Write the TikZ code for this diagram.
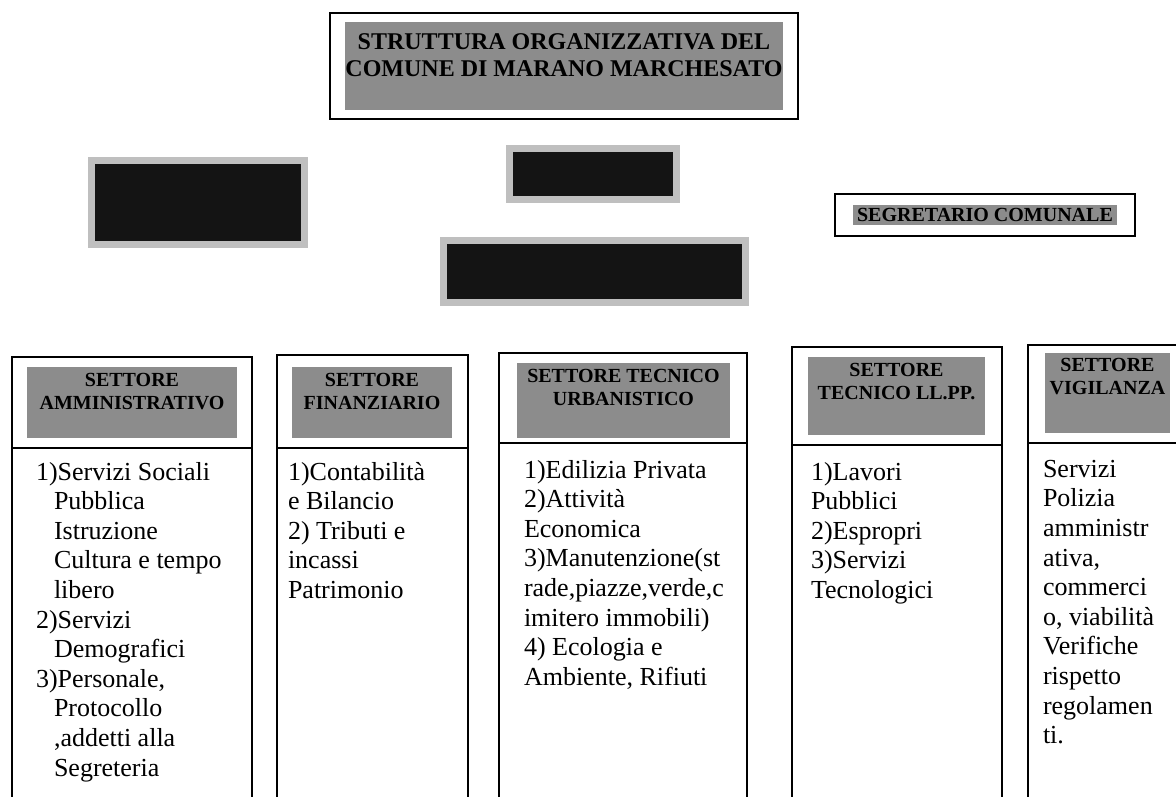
\documentclass[tikz,border=0pt]{standalone}
\usepackage{fontspec}
\setmainfont{Liberation Serif}
\usetikzlibrary{positioning, fit}

\begin{document}
\begin{tikzpicture}[x=1pt, y=-1pt, line width=2pt,
  hdr/.style={fill=black!45, inner sep=0pt},
  hdrtext/.style={font=\bfseries\fontsize{20}{23}\selectfont, align=center, inner sep=0pt},
  darkbox/.style={fill=black!92, draw=black!25, line width=7pt, inner sep=0pt},
  frame/.style={draw, line width=2pt, inner sep=0pt},
  body/.style={font=\fontsize{26}{29.6}\selectfont, align=left, inner sep=0pt, anchor=north west}]

  \useasboundingbox (0,0) rectangle (1176,797);

  % titolo
  \node[hdr, minimum width=438, minimum height=88] (titlebg) at (564,66) {};
  \node[hdrtext, font=\bfseries\fontsize{24}{27}\selectfont, below=12pt of titlebg.north] (title)
    {STRUTTURA ORGANIZZATIVA DEL\\COMUNE DI MARANO MARCHESATO};
  \node[frame, fit=(titlebg), inner xsep=14pt, inner ysep=8pt] (titlefr) {};

  % organi
  \node[darkbox, minimum width=213, minimum height=83] (boxleft) at (197.5,202.5) {};
  \node[darkbox, minimum width=167, minimum height=51] (boxmid) at (592.5,174) {};
  \node[darkbox, minimum width=302, minimum height=62] (boxlow) at (594.5,271) {};

  \node[hdr, hdrtext, minimum width=264, minimum height=20] (segr) at (985,215) {SEGRETARIO COMUNALE};
  \node[frame, fit=(segr), inner xsep=17pt, inner ysep=10pt] (segrfr) {};

  % settori
  \draw (12,797) |- (252,357) -- (252,797);
  \draw (12,448) -- (252,448);
  \draw (277,797) |- (468,355) -- (468,797);
  \draw (277,448) -- (468,448);
  \draw (499,797) |- (747,353) -- (747,797);
  \draw (499,443) -- (747,443);
  \draw (792,797) |- (1002,347) -- (1002,797);
  \draw (792,445) -- (1002,445);
  \draw (1028,797) |- (1180,345);
  \draw (1028,443) -- (1180,443);

  \node[hdr, minimum width=210, minimum height=71] (hammin) at (132,402.5) {};
  \node[hdrtext, below=6pt of hammin.north] (tammin) {SETTORE\\AMMINISTRATIVO};
  \node[hdr, minimum width=160, minimum height=71] (hfin) at (372,402.5) {};
  \node[hdrtext, below=6pt of hfin.north] (tfin) {SETTORE\\FINANZIARIO};
  \node[hdr, minimum width=213, minimum height=75] (hurb) at (623.5,400.5) {};
  \node[hdrtext, below=6pt of hurb.north] (turb) {SETTORE TECNICO\\URBANISTICO};
  \node[hdr, minimum width=177, minimum height=78] (hllpp) at (896.5,396) {};
  \node[hdrtext, below=6pt of hllpp.north] (tllpp) {SETTORE\\TECNICO LL.PP.};
  \node[hdr, minimum width=125, minimum height=80] (hvig) at (1107.5,393) {};
  \node[hdrtext, below=5pt of hvig.north] (tvig) {SETTORE\\VIGILANZA};

  \node[body] (lammin) at (35,461) {1)Servizi Sociali\\
    \hspace*{18pt}Pubblica\\ \hspace*{18pt}Istruzione\\
    \hspace*{18pt}Cultura e tempo\\ \hspace*{18pt}libero\\
    2)Servizi\\ \hspace*{18pt}Demografici\\
    3)Personale,\\ \hspace*{18pt}Protocollo\\
    \hspace*{18pt},addetti alla\\ \hspace*{18pt}Segreteria};
  \node[body] (lfin) at (287,461) {1)Contabilità\\e Bilancio\\2) Tributi e\\incassi\\Patrimonio};
  \node[body] (lurb) at (523,459) {1)Edilizia Privata\\2)Attività\\Economica\\
    3)Manutenzione(st\\rade,piazze,verde,c\\imitero immobili)\\
    4) Ecologia e\\Ambiente, Rifiuti};
  \node[body] (lllpp) at (810,461) {1)Lavori\\Pubblici\\2)Espropri\\3)Servizi\\Tecnologici};
  \node[body] (lvig) at (1042,459) {Servizi\\Polizia\\amministr\\ativa,\\commerci\\
    o, viabilità\\Verifiche\\rispetto\\regolamen\\ti.};
\end{tikzpicture}
\end{document}
